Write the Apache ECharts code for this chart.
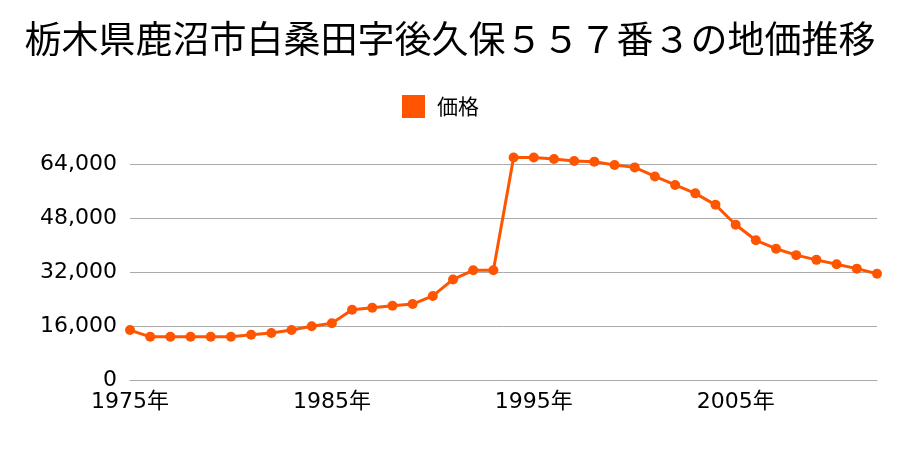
<!DOCTYPE html>
<html><head><meta charset="utf-8">
<script src="https://cdn.jsdelivr.net/npm/echarts@6/dist/echarts.min.js"></script>
<style>html,body{margin:0;padding:0;background:#fff}#c{width:900px;height:450px}</style>
</head><body><div id="c"></div>
<script>
const titleText = '栃木県鹿沼市白桑田字後久保５５７番３の地価推移';
const seriesName = '価格';
const years = [1975,1976,1977,1978,1979,1980,1981,1982,1983,1984,1985,1986,1987,1988,1989,1990,1991,1992,1993,1994,1995,1996,1997,1998,1999,2000,2001,2002,2003,2004,2005,2006,2007,2008,2009,2010,2011,2012];
const prices = [14800,12800,12800,12800,12800,12800,13400,13900,14800,15900,16800,20800,21400,22000,22500,24900,29800,32500,32500,65900,65900,65500,64900,64700,63700,63000,60300,57800,55300,51900,46000,41400,38900,37000,35600,34300,33000,31500];
const yTicks = [0,16000,32000,48000,64000];

const fontFam = '"Noto Sans CJK JP", "Noto Sans", sans-serif';
const numFam = '"DejaVu Sans", "Noto Sans CJK JP", sans-serif';
const chart = echarts.init(document.getElementById('c'), null, {renderer:'canvas'});
chart.setOption({
  animation: false,
  backgroundColor: '#fff',
  title: {
    text: titleText, left: 'center', top: 15,
    textStyle: {fontFamily: fontFam, fontSize: 37, fontWeight: 'normal', color: '#000'}
  },
  legend: {
    data: [seriesName], left: 397, top: 90, icon: 'rect',
    itemWidth: 23, itemHeight: 23, itemGap: 10,
    textStyle: {fontFamily: fontFam, fontSize: 21, color: '#000', padding: [0,0,0,7]}
  },
  grid: {left: 130, right: 23, top: 164, bottom: 70, containLabel: false},
  xAxis: {
    type: 'category', data: years.map(y => y + '年'), boundaryGap: false,
    axisLine: {show: true, lineStyle: {color: '#aaa', width: 1}},
    axisTick: {show: false},
    axisLabel: {interval: 9, color: '#000', fontFamily: numFam, fontSize: 22, margin: 11},
    splitLine: {show: false}
  },
  yAxis: {
    type: 'value', min: yTicks[0], max: yTicks[yTicks.length-1], interval: 16000,
    axisLine: {show: false}, axisTick: {show: false},
    axisLabel: {color: '#000', fontFamily: numFam, fontSize: 22, margin: 13,
      formatter: v => v.toLocaleString('en-US')},
    splitLine: {show: true, lineStyle: {color: '#aaa', width: 1}}
  },
  series: [{
    name: seriesName, type: 'line', data: prices, clip: false,
    color: '#ff5500',
    symbol: 'circle', symbolSize: 10,
    lineStyle: {width: 3, color: '#ff5500'},
    itemStyle: {color: '#ff5500'}
  }]
});
</script></body></html>
